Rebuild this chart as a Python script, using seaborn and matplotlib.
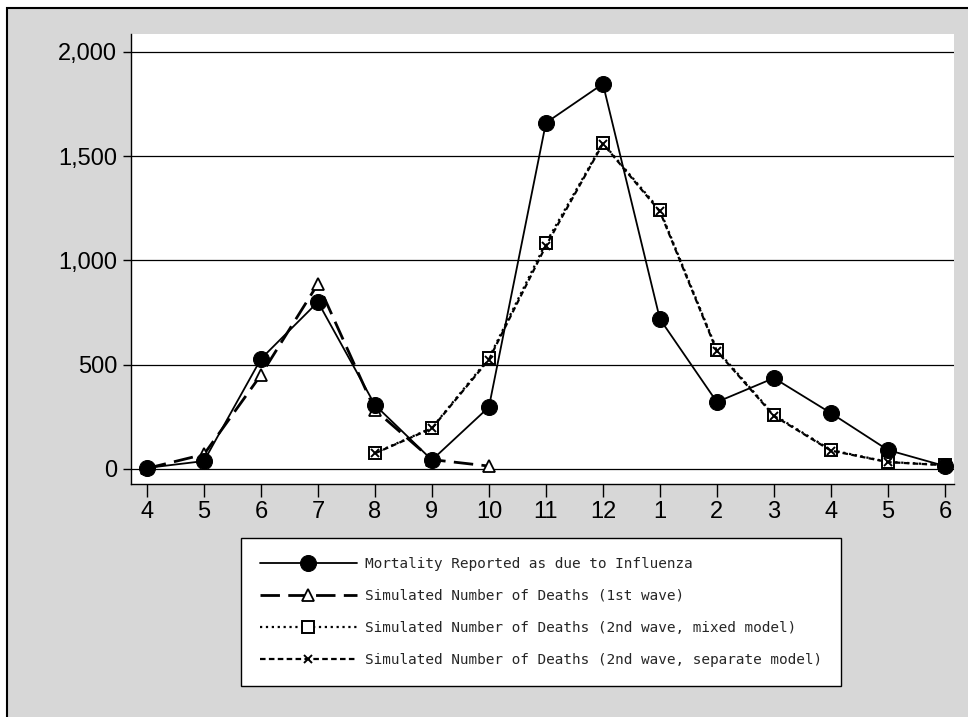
import pandas as pd
import matplotlib.pyplot as plt
import seaborn as sns
from matplotlib.patches import Rectangle

# Month labels (Apr of year 1 to Jun of year 2)
months = ["4", "5", "6", "7", "8", "9", "10", "11", "12", "1", "2", "3", "4", "5", "6"]

# Values
mortality = [5, 38, 528, 801, 307, 43, 297, 1660, 1847, 719, 321, 436, 268, 91, 14]
first_wave_pos = [0, 1, 2, 3, 4, 5, 6]
first_wave = [3, 70, 451, 888, 283, 45, 14]
second_pos = [4, 5, 6, 7, 8, 9, 10, 11, 12, 13, 14]
second_mixed = [77, 197, 532, 1084, 1563, 1242, 571, 259, 91, 34, 19]
second_separate = [75, 195, 525, 1070, 1560, 1235, 565, 255, 88, 33, 18]

y_ticks = [0, 500, 1000, 1500, 2000]

df_mort = pd.DataFrame({"pos": range(len(months)), "deaths": mortality})
df_first = pd.DataFrame({"pos": first_wave_pos, "deaths": first_wave})
df_mixed = pd.DataFrame({"pos": second_pos, "deaths": second_mixed})
df_sep = pd.DataFrame({"pos": second_pos, "deaths": second_separate})

sns.set_style("white")
plt.rcParams["font.family"] = ["Liberation Sans", "DejaVu Sans"]

fig = plt.figure(figsize=(9.68, 7.17), dpi=100)
fig.patch.set_facecolor("white")

# gray panel with black frame on top/left
fig.patches.append(Rectangle((7 / 968, -0.05), 1.1, 1 - 8 / 717 + 0.05,
                             transform=fig.transFigure, facecolor="#d7d7d7",
                             edgecolor="black", linewidth=1.5, zorder=-10))

ax = fig.add_axes([131 / 968, 1 - 484 / 717, (954 - 131) / 968, (484 - 34) / 717])
ax.set_facecolor("white")

for y in y_ticks:
    ax.axhline(y, color="black", lw=0.9, zorder=1)

sns.lineplot(data=df_mort, x="pos", y="deaths", ax=ax, color="black", lw=1.3,
             marker="o", markersize=11.5, markerfacecolor="black",
             markeredgecolor="black", label="Mortality Reported as due to Influenza", zorder=5)
sns.lineplot(data=df_first, x="pos", y="deaths", ax=ax, color="black", lw=2.0,
             dashes=(7, 3), marker="^", markersize=9, markerfacecolor="white",
             markeredgecolor="black", markeredgewidth=1.3,
             label="Simulated Number of Deaths (1st wave)", zorder=4)
sns.lineplot(data=df_mixed, x="pos", y="deaths", ax=ax, color="black", lw=1.6,
             linestyle=":", marker="s", markersize=9, markerfacecolor="white",
             markeredgecolor="black", markeredgewidth=1.4,
             label="Simulated Number of Deaths (2nd wave, mixed model)", zorder=3)
sns.lineplot(data=df_sep, x="pos", y="deaths", ax=ax, color="black", lw=1.6,
             dashes=(2.5, 1.5), marker="x", markersize=6, markeredgewidth=1.4,
             markeredgecolor="black",
             label="Simulated Number of Deaths (2nd wave, separate model)", zorder=6)

ax.set_xlim(-0.28, 14.16)
ax.set_ylim(-72, 2086)
ax.set_xticks(range(len(months)))
ax.set_xticklabels(months)
ax.set_yticks(y_ticks)
ax.set_yticklabels([f"{v:,}" for v in y_ticks])
ax.set_xlabel("")
ax.set_ylabel("")

for side in ["top", "right"]:
    ax.spines[side].set_visible(False)
for side in ["left", "bottom"]:
    ax.spines[side].set_color("black")
    ax.spines[side].set_linewidth(1.0)

ax.tick_params(axis="both", labelsize=17, colors="black", direction="out")
ax.tick_params(axis="y", length=6, width=1, pad=4, left=True)
ax.tick_params(axis="x", length=9, width=1, pad=3, bottom=True)

ax.legend_.remove()
handles, labels = ax.get_legend_handles_labels()
leg = fig.legend(handles, labels, loc="upper left",
                 bbox_to_anchor=(241 / 968, 1 - 538 / 717),
                 prop={"family": "DejaVu Sans Mono", "size": 10.4},
                 frameon=True, fancybox=False, framealpha=1, facecolor="white",
                 edgecolor="black", handlelength=6.7,
                 labelspacing=1.25, borderpad=1.3, handletextpad=0.6,
                 borderaxespad=0)
leg.get_frame().set_linewidth(1.0)

fig.savefig("out.png", dpi=100)
